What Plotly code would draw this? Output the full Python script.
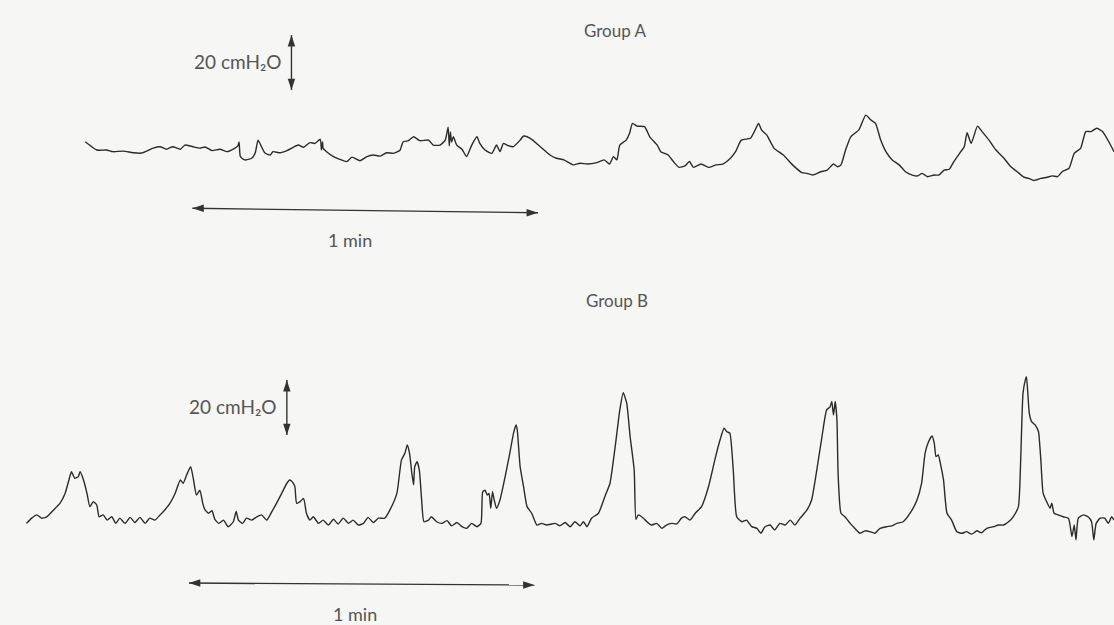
import plotly.graph_objects as go

# Group A recording: time (s) and pressure (cmH2O, relative to resting baseline)
time_a = [14.8, 16.8, 18.5, 19.6, 21.4, 23.1, 24.6, 26.6, 27.8, 28.9, 30.0, 31.3, 32.1, 33.5, 34.7,
          35.6, 36.8, 38.2, 39.4, 40.5, 41.3, 41.5, 41.7, 42.0, 42.5, 43.7, 44.3, 44.8, 45.4, 46.0,
          46.9, 47.4, 48.6, 49.8, 50.9, 51.8, 52.7, 53.8, 54.7, 55.6, 55.8, 56.0, 56.1, 56.7, 57.9,
          59.0, 60.2, 61.1, 62.5, 63.7, 64.8, 66.0, 67.1, 68.3, 69.4, 70.0, 70.9, 71.8, 72.9, 74.4,
          75.2, 76.4, 77.3, 77.8, 78.0, 78.2, 78.4, 78.7, 79.3, 80.2, 81.0, 81.9, 82.8, 83.3, 84.2,
          85.4, 86.2, 86.8, 87.4, 88.0, 89.1, 90.3, 90.9, 92.0, 93.8, 95.5, 96.6, 97.9, 99.5, 100.7,
          102.0, 103.6, 104.9, 105.8, 106.5, 107.1, 107.6, 108.7, 109.3, 109.8, 110.6, 111.9, 112.8,
          114.1, 114.7, 116.0, 116.9, 117.9, 118.9, 119.7, 120.4, 121.7, 123.0, 124.3, 125.5, 126.8,
          127.7, 128.7, 130.3, 131.1, 131.7, 132.2, 133.1, 134.4, 136.0, 137.6, 139.2, 140.1, 141.1,
          142.5, 143.6, 144.7, 145.4, 146.0, 146.8, 147.7, 149.1, 150.3, 151.2, 152.0, 152.9, 153.8,
          154.9, 156.1, 157.2, 158.4, 159.3, 160.1, 161.0, 162.2, 163.0, 163.9, 164.8, 165.6, 166.8,
          167.4, 167.9, 168.6, 169.7, 170.5, 171.7, 172.9, 174.3, 175.5, 176.6, 177.8, 178.6, 179.5,
          180.7, 181.8, 182.7, 183.6, 184.4, 185.6, 186.5, 187.6, 188.5, 189.4, 190.4, 191.4, 192.5,
          193.4]
pressure_a = [13.9, 10.9, 10.9, 10.3, 10.5, 9.9, 9.8, 11.6, 12.1, 11.2, 12.1, 11.2, 12.7, 12.1, 11.6,
              12.0, 10.7, 11.2, 10.3, 11.2, 12.4, 13.8, 8.7, 7.9, 7.3, 7.9, 9.8, 14.5, 12.1, 9.8,
              9.1, 10.3, 9.9, 10.7, 11.9, 12.7, 11.9, 13.6, 13.3, 14.8, 10.9, 13.8, 11.5, 10.3, 8.5,
              7.5, 6.7, 8.3, 7.0, 8.5, 9.1, 8.7, 9.9, 9.7, 10.7, 13.9, 14.3, 15.7, 14.3, 14.5,
              12.7, 12.7, 14.5, 19.2, 12.4, 17.5, 13.8, 15.7, 12.7, 11.2, 8.5, 12.7, 15.7, 13.3, 10.9,
              9.7, 12.7, 10.3, 13.3, 12.7, 12.1, 14.5, 16.0, 15.2, 12.1, 9.1, 7.9, 7.3, 5.5, 6.1,
              5.8, 6.3, 7.3, 5.8, 8.5, 7.3, 12.7, 14.5, 17.0, 20.6, 19.6, 19.4, 15.7,
              12.7, 10.3, 9.1, 6.7, 4.6, 5.1, 6.7, 4.6, 5.8, 4.6, 5.5, 5.8, 7.9,
              10.3, 14.5, 15.2, 18.2, 20.6, 18.2, 16.4, 11.5, 9.1, 5.5, 2.7, 2.4, 1.8,
              3.0, 3.6, 5.8, 4.8, 5.5, 10.9, 15.7, 18.2, 23.6, 21.8, 20.6, 14.5, 10.3,
              7.3, 5.5, 3.0, 1.8, 1.5, 2.4, 1.2, 1.8, 1.8, 3.6, 3.9, 6.7, 10.3,
              12.1, 17.2, 13.3, 19.6, 17.6, 14.5, 10.9, 7.9, 4.8, 3.0, 1.0, 0.6, -0.2,
              0.6, 1.0, 1.5, 1.2, 3.0, 4.3, 9.7, 11.5, 17.6, 17.6, 18.8, 17.6, 13.9,
              10.3]

# Group B recording: time (s) and pressure (cmH2O, relative to resting baseline)
time_b = [4.6, 5.5, 6.4, 7.2, 8.1, 9.3, 10.4, 11.3, 12.2, 12.4, 13.0, 13.6, 13.9, 14.5, 15.1,
          15.6, 16.2, 16.8, 17.2, 17.9, 18.6, 19.4, 20.1, 20.8, 21.7, 22.6, 23.4, 24.3, 25.2, 26.0,
          26.9, 27.8, 28.6, 29.5, 30.4, 31.3, 31.8, 32.4, 33.1, 33.6, 34.1, 34.7, 35.2, 35.6, 36.2,
          36.8, 37.3, 38.0, 38.8, 39.6, 40.5, 41.0, 41.4, 42.1, 42.8, 43.7, 44.6, 45.4, 46.3, 47.2,
          48.0, 48.9, 49.8, 50.3, 50.6, 50.9, 51.2, 51.5, 52.1, 52.7, 53.2, 53.8, 54.4, 55.3, 56.1,
          57.0, 57.9, 58.7, 59.6, 60.5, 61.3, 62.2, 63.1, 63.9, 64.8, 65.7, 66.8, 67.7, 68.9, 69.7,
          70.3, 70.7, 71.1, 71.5, 71.8, 72.0, 72.4, 72.8, 73.2, 73.6, 74.4, 74.9, 75.8, 76.7, 77.6,
          78.4, 79.3, 80.2, 81.0, 81.9, 82.8, 83.5, 83.8, 84.2, 84.6, 84.9, 85.2, 85.5, 85.8, 86.2,
          86.8, 87.7, 88.5, 89.2, 89.6, 89.8, 90.3, 90.9, 91.5, 92.3, 93.2, 94.0, 94.9, 96.4,
          97.2, 98.1, 99.0, 99.8, 100.7, 101.3, 101.9, 102.7, 103.9, 105.0, 105.9, 106.8, 107.6, 108.2,
          108.8, 109.4, 110.1, 110.4, 110.8, 111.7, 112.3, 113.1, 114.0, 114.9, 115.7, 116.6, 117.5,
          118.3, 118.9, 119.8, 120.7, 121.8, 123.0, 124.1, 125.0, 125.7, 126.2, 126.7, 127.3, 127.9,
          128.8, 129.6, 130.5, 131.4, 132.1, 132.8, 133.7, 134.5, 135.4, 136.3, 137.2, 138.0, 138.9,
          140.1, 140.9, 141.8, 142.7, 143.5, 144.1, 144.4, 144.7, 145.0, 145.3, 145.5, 146.0, 146.7,
          147.6, 148.4, 149.3, 150.2, 151.0, 151.9, 152.8, 153.9, 154.8, 155.7, 156.8, 158.0, 159.2,
          160.0, 160.6, 161.2, 161.8, 162.2, 162.5, 162.9, 163.2, 163.8, 164.4, 165.2, 166.1, 167.0,
          167.8, 168.7, 169.6, 170.4, 171.3, 172.5, 173.3, 174.2, 175.1, 175.9, 176.8, 177.2, 177.6,
          178.0, 178.2, 178.4, 178.7, 179.1, 179.7, 180.3, 180.4, 180.7, 181.1, 181.7, 182.3, 182.6,
          183.0, 183.7, 184.6, 185.5, 186.1, 186.5, 186.8, 187.2, 188.1, 188.9, 189.5, 189.9, 190.3,
          191.0, 191.8, 192.4, 193.0, 193.4]
pressure_b = [2.4, 4.3, 5.5, 4.3, 4.8, 7.3, 9.7, 13.3, 20.0, 21.2, 18.8, 19.4, 21.2, 18.2, 13.3,
              8.5, 10.3, 9.1, 4.8, 5.5, 3.6, 4.8, 2.4, 4.3, 2.4, 4.6, 2.7, 4.6, 2.4, 4.3,
              3.6, 5.5, 7.3, 9.7, 13.3, 18.2, 17.0, 20.0, 23.0, 18.2, 12.7, 14.5, 9.7, 7.3, 6.1,
              7.0, 3.9, 2.4, 3.6, 1.2, 3.0, 6.7, 3.6, 2.4, 4.3, 3.6, 4.8, 5.5, 3.6, 6.7,
              9.7, 13.3, 17.0, 18.2, 17.8, 17.0, 15.7, 9.7, 10.3, 11.5, 6.1, 3.6, 4.8, 2.4, 3.6,
              1.8, 3.9, 2.2, 4.3, 2.4, 3.6, 1.8, 2.4, 4.6, 2.7, 4.3, 4.3, 7.3, 13.3, 25.5,
              27.9, 30.9, 27.9, 20.6, 16.4, 23.0, 24.8, 21.8, 10.9, 3.0, 3.6, 4.8, 3.0, 2.4, 3.4,
              1.5, 2.7, 1.2, 0.6, 2.4, 1.2, 2.4, 13.9, 14.5, 12.7, 13.3, 7.9, 13.9, 10.9, 7.9,
              10.9, 19.4, 27.9, 35.7, 38.2, 36.4, 23.0, 15.7, 8.5, 6.1, 1.8, 2.4, 1.8, 2.4,
              1.5, 2.7, 1.2, 3.0, 1.5, 3.0, 1.2, 4.3, 6.1, 12.1, 17.0, 30.3, 43.6, 49.9,
              46.1, 33.9, 21.8, 3.9, 5.5, 4.3, 3.0, 1.8, 2.4, 0.6, 1.8, 2.4, 2.2,
              4.3, 4.8, 3.6, 6.1, 8.5, 15.7, 25.5, 32.7, 37.0, 35.7, 35.2, 21.8, 4.8,
              3.0, 3.6, 1.2, 0.6, -1.2, 1.2, 1.8, 0.0, 2.4, 1.8, 3.6, 1.8, 4.3,
              7.3, 10.9, 21.8, 33.9, 43.6, 44.8, 46.7, 41.8, 46.7, 40.0, 20.6, 6.1, 4.8,
              2.4, 0.6, -1.2, -0.3, -0.6, -1.2, 0.6, 1.2, 1.5, 2.4, 3.0, 6.1, 10.9,
              17.0, 27.9, 32.1, 34.2, 31.5, 26.7, 27.3, 24.8, 18.2, 6.1, 3.6, -0.6, -1.2,
              -0.6, -1.5, -0.3, -1.0, 0.6, 1.2, 1.8, 1.8, 3.0, 4.8, 8.5, 25.5, 49.7,
              54.5, 55.7, 50.9, 42.4, 39.4, 38.2, 35.7, 33.9, 25.5, 13.3, 10.3, 7.9, 9.7,
              6.1, 5.5, 4.8, 4.3, -2.4, 1.8, -3.6, 4.3, 5.5, 4.8, 3.0, -3.6, 2.4,
              4.3, 4.3, 2.4, 4.8, 3.6]

# Calibration bars (data units): 20 cmH2O vertical, 1 min horizontal
scale_pressure = 20      # cmH2O
scale_time = 60          # s
bar_a = dict(t=50.6, p_top=52.7, t_start=33.4, p_start=-10.3, p_end=-11.9)
bar_b = dict(t=49.8, p_top=54.5, t_start=32.8, p_start=-19.3, p_end=-20.0)

LINE = "#2b2b2b"
TXT = "#555555"
FONT = "Lato, 'Open Sans', sans-serif"

fig = go.Figure()
fig.add_trace(go.Scatter(x=time_a, y=pressure_a, mode="lines", xaxis="x", yaxis="y",
                         line=dict(color=LINE, width=1.4, shape="spline", smoothing=0.5),
                         hoverinfo="skip"))
fig.add_trace(go.Scatter(x=time_b, y=pressure_b, mode="lines", xaxis="x", yaxis="y2",
                         line=dict(color=LINE, width=1.4, shape="spline", smoothing=0.5),
                         hoverinfo="skip"))


def double_arrow(xs, ys, angles, yaxis):
    fig.add_trace(go.Scatter(
        x=xs, y=ys, mode="lines+markers", yaxis=yaxis, hoverinfo="skip",
        line=dict(color="#333333", width=1.4),
        marker=dict(symbol="arrow", size=12, angle=angles, color="#333333",
                    line=dict(width=0))))


# Group A calibration bars
double_arrow([bar_a["t"], bar_a["t"]], [bar_a["p_top"] - scale_pressure, bar_a["p_top"]], [180, 0], "y")
double_arrow([bar_a["t_start"], bar_a["t_start"] + scale_time], [bar_a["p_start"], bar_a["p_end"]],
             [270, 90], "y")
# Group B calibration bars
double_arrow([bar_b["t"], bar_b["t"]], [bar_b["p_top"] - scale_pressure, bar_b["p_top"]], [180, 0], "y2")
double_arrow([bar_b["t_start"], bar_b["t_start"] + scale_time], [bar_b["p_start"], bar_b["p_end"]],
             [270, 90], "y2")

ann = [
    dict(x=106.8, y=54.5, xref="x", yref="y", text="Group A", showarrow=False,
         font=dict(family=FONT, size=17, color=TXT)),
    dict(x=49.3, y=43.0, xref="x", yref="y", text="20 cmH₂O", showarrow=False,
         xanchor="right", font=dict(family=FONT, size=19, color=TXT)),
    dict(x=60.8, y=-21.8, xref="x", yref="y", text="1 min", showarrow=False,
         font=dict(family=FONT, size=18, color=TXT)),
    dict(x=107.1, y=1 - 300 / 625, xref="x", yref="paper", text="Group B", showarrow=False,
         font=dict(family=FONT, size=17, color=TXT)),
    dict(x=48.4, y=44.8, xref="x", yref="y2", text="20 cmH₂O", showarrow=False,
         xanchor="right", font=dict(family=FONT, size=19, color=TXT)),
    dict(x=61.6, y=-30.5, xref="x", yref="y2", text="1 min", showarrow=False,
         font=dict(family=FONT, size=18, color=TXT)),
]

fig.update_layout(
    width=1114, height=625,
    margin=dict(l=0, r=0, t=0, b=0),
    paper_bgcolor="#f6f6f5", plot_bgcolor="#f6f6f5",
    showlegend=False,
    xaxis=dict(range=[0, 193.4], visible=False, fixedrange=True),
    yaxis=dict(domain=[0.5, 1], range=[-48.18, 65.45], visible=False, fixedrange=True),
    yaxis2=dict(domain=[0, 0.5], range=[-34.55, 79.09], visible=False, fixedrange=True),
    annotations=ann,
)
fig.write_html("out.html", config={"displayModeBar": False})
